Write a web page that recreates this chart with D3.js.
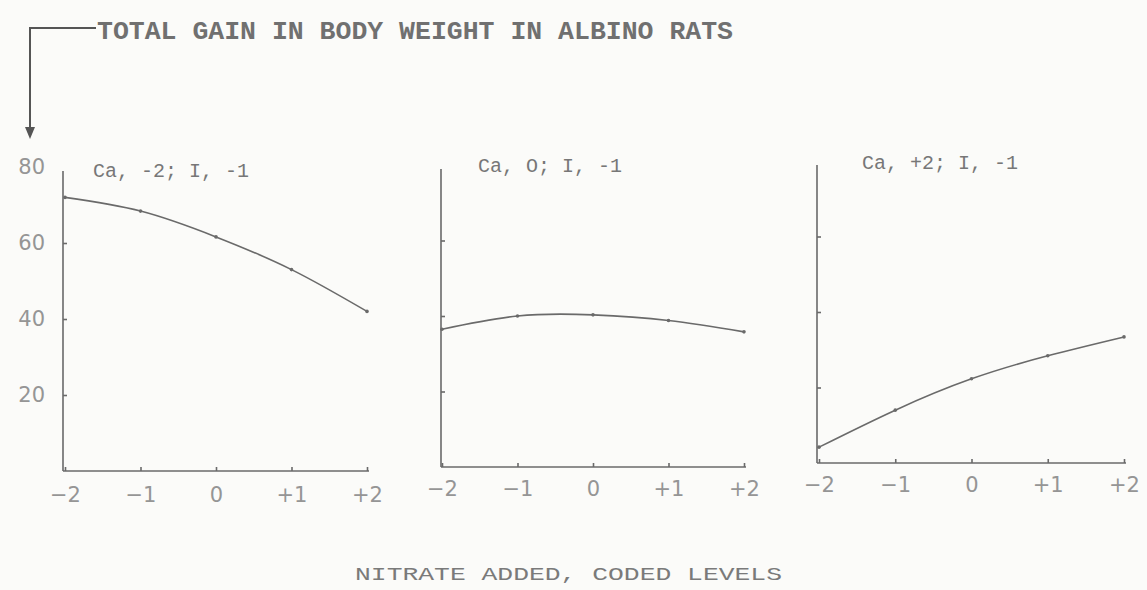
<!DOCTYPE html>
<html><head><meta charset="utf-8">
<script src="https://cdn.jsdelivr.net/npm/d3@7"></script>
<style>
body{margin:0;background:#fbfbf9;}
svg{display:block;}
</style></head>
<body>
<svg id="c" width="1147" height="590"></svg>
<script>
const xLevels = [-2, -1, 0, 1, 2];
const xTickLabels = ["\u22122", "\u22121", "0", "+1", "+2"];
const yTicksLabelled = [20, 40, 60, 80];
const yTicksPlain = [20, 40, 60];
const yTickLabels = ["20", "40", "60", "80"];
const panelTitles = ["Ca, -2; I, -1", "Ca, O; I, -1", "Ca, +2; I, -1"];
const gainCaMinus2 = [72, 68.4, 61.6, 53, 42];
const gainCa0 = [36.5, 40, 40.3, 38.8, 35.8];
const gainCaPlus2 = [4.2, 14, 22.3, 28.4, 33.4];
const chartTitle = "TOTAL GAIN IN BODY WEIGHT IN ALBINO RATS";
const xAxisTitle = "NITRATE ADDED, CODED LEVELS";

const series = [gainCaMinus2, gainCa0, gainCaPlus2];
const svg = d3.select("#c");
const ink = "#6a6a6a";

const panels = [
  {x0: 65, x1: 367, yb: 471, yt: 167, ax: 63, tx: 93, ty: 177, labels: true, pad: 16},
  {x0: 442, x1: 744, yb: 467, yt: 165, ax: 441, tx: 478, ty: 172, labels: false, pad: 14},
  {x0: 819, x1: 1124, yb: 463, yt: 161, ax: 817, tx: 862, ty: 169, labels: false, pad: 14}
];

panels.forEach((p, i) => {
  const x = d3.scaleLinear().domain([-2, 2]).range([p.x0, p.x1]);
  const y = d3.scaleLinear().domain([0, 80]).range([p.yb, p.yt]);
  const g = svg.append("g");

  // y axis
  const ya = d3.axisLeft(y).tickValues(p.labels ? yTicksLabelled : yTicksPlain)
    .tickSizeInner(-4).tickSizeOuter(0).tickPadding(18)
    .tickFormat((d, k) => p.labels ? yTickLabels[k] : "");
  const yg = g.append("g").attr("transform", `translate(${p.ax},0)`).call(ya);
  yg.select(".domain").attr("d", `M0,${p.yb}V${p.yt + 4}`);
  if (p.labels) yg.selectAll(".tick").filter(d => d === 80).select("line").remove();

  // x axis
  const xa = d3.axisBottom(x).tickValues(xLevels).tickSizeInner(-4).tickSizeOuter(0).tickPadding(p.pad)
    .tickFormat((d, k) => xTickLabels[k]);
  const xg = g.append("g").attr("transform", `translate(0,${p.yb})`).call(xa);
  xg.select(".domain").attr("d", `M${p.ax},0H${p.x1 + 2}`);

  [yg, xg].forEach(a => {
    a.selectAll("path,line").attr("stroke", ink).attr("stroke-width", 1.6);
    a.selectAll("text").attr("fill", "#959595").attr("font-family", "DejaVu Sans, sans-serif")
      .attr("font-size", 21);
  });

  // curve
  const data = xLevels.map((lv, k) => [lv, series[i][k]]);
  g.append("path").datum(data)
    .attr("fill", "none").attr("stroke", ink).attr("stroke-width", 1.6)
    .attr("d", d3.line().x(d => x(d[0])).y(d => y(d[1])).curve(d3.curveNatural));
  g.selectAll("circle.pt").data(data).join("circle")
    .attr("cx", d => x(d[0])).attr("cy", d => y(d[1])).attr("r", 1.8).attr("fill", ink);

  // panel title
  g.append("text").attr("x", p.tx).attr("y", p.ty)
    .attr("font-family", "Liberation Mono, Courier New, monospace").attr("font-size", 20)
    .attr("fill", "#777").text(panelTitles[i]);
});

// chart title and arrow
svg.append("text").attr("x", 97).attr("y", 39)
  .attr("font-family", "Liberation Mono, Courier New, monospace").attr("font-size", 26)
  .attr("font-weight", "bold").attr("fill", "#707070")
  .attr("textLength", 636).attr("lengthAdjust", "spacingAndGlyphs").text(chartTitle);
svg.append("path").attr("d", "M96,28H30V130").attr("fill", "none").attr("stroke", "#555").attr("stroke-width", 2);
svg.append("path").attr("d", "M25,127L30,139L35,127Z").attr("fill", "#555");

// x-axis title
svg.append("text").attr("x", 355).attr("y", 580)
  .attr("font-family", "Liberation Mono, Courier New, monospace").attr("font-size", 19)
  .attr("fill", "#7a7a7a").attr("textLength", 427).attr("lengthAdjust", "spacingAndGlyphs").text(xAxisTitle);
</script>
</body></html>
